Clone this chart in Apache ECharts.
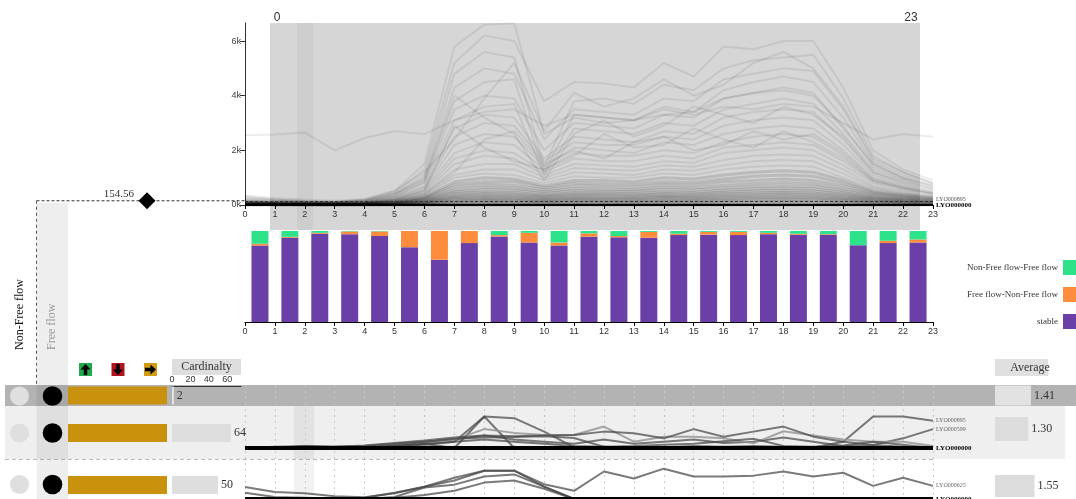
<!DOCTYPE html>
<html><head><meta charset="utf-8">
<script src="https://cdn.jsdelivr.net/npm/echarts@6/dist/echarts.min.js"></script>
<style>html,body{margin:0;padding:0;background:#fff}#c{width:1076px;height:499px}</style>
</head><body><div id="c"></div>
<script>
// ---------------- DATA ----------------
const hours = [0,1,2,3,4,5,6,7,8,9,10,11,12,13,14,15,16,17,18,19,20,21,22,23];
const barCenters = ['0.5','1.5','2.5','3.5','4.5','5.5','6.5','7.5','8.5','9.5','10.5','11.5','12.5','13.5','14.5','15.5','16.5','17.5','18.5','19.5','20.5','21.5','22.5'];
const threshold = 154.56;

// traffic volume lines (top panel), one array per detector
const topHighLines = [
  [2550,2580,2650,2000,2450,2700,2600,3100,3400,3500,2900,3300,3200,3100,3500,3300,3600,3500,3700,3600,3000,2400,2600,2500],
  [300,200,150,120,200,500,1500,5800,6600,6650,2600,3200,3000,3100,3300,3400,3900,4100,4300,4100,2800,1500,1000,700],
  [250,180,140,110,180,450,1300,5200,6200,6000,3800,4500,4450,4300,5200,4700,5800,5700,6000,6000,4300,2000,1300,900],
  [200,150,120,100,160,400,1100,4800,5600,5400,1400,3800,3900,3700,4400,4200,5000,5300,5400,5500,3900,1800,1200,800],
  [220,160,120,100,150,380,1000,4300,5000,4800,2400,3500,3400,3300,3900,3800,4600,4800,5000,4900,3500,1600,1100,750],
  [180,130,100,90,140,350,900,3800,4500,4600,1200,3300,3200,3100,3600,3400,4200,4500,4700,4500,3200,1500,1000,700],
  [160,120,90,80,130,320,850,3500,4000,3900,2000,3000,2900,2800,3300,3200,3900,4100,4200,4000,2900,1400,950,650],
  [150,110,90,80,120,300,800,3100,3600,3700,1100,2800,2700,2600,3000,2900,3500,3700,3900,3700,2600,1300,900,600],
  [350,260,200,160,220,520,1200,2400,3900,5200,2700,4100,3600,3900,4600,4000,4400,5200,5600,5000,3600,1700,1200,800],
  [280,200,150,120,170,420,950,4000,3200,2600,900,2600,3100,2500,2900,3600,3300,3000,3600,3300,2500,1200,850,600]
];
const topMidLines = [
  [140,100,80,70,110,280,700,2800,3300,3200,1700,2500,2400,2300,2700,2600,3200,3400,3500,3400,2400,1200,800,550],
  [130,100,80,70,100,260,650,2500,3000,2900,1600,2300,2200,2200,2500,2400,2900,3100,3200,3100,2200,1100,750,500],
  [120,90,70,60,100,240,600,2200,2600,2500,1400,2100,2000,1900,2300,2200,2600,2800,2900,2800,2000,1000,700,480],
  [110,80,70,60,90,220,550,1900,2300,2200,1300,1900,1800,1800,2000,1900,2300,2500,2600,2500,1800,900,650,450],
  [100,80,60,50,80,200,500,1700,2000,1900,1200,1700,1600,1600,1800,1700,2100,2200,2300,2200,1600,850,600,420],
  [100,70,60,50,80,190,450,1500,1800,1700,1100,1500,1450,1400,1600,1550,1900,2000,2100,2000,1450,800,550,400],
  [90,70,50,50,70,170,400,1300,1500,1500,1000,1350,1300,1250,1450,1400,1650,1800,1850,1800,1300,700,500,380],
  [80,60,50,40,60,150,380,1100,1300,1300,900,1200,1150,1100,1300,1250,1450,1600,1650,1600,1150,650,450,350],
  [80,60,50,40,60,140,350,1000,1150,1100,800,1050,1000,1000,1150,1100,1300,1400,1450,1400,1000,600,420,320],
  [160,110,90,70,90,200,520,2900,2100,1600,1300,1800,2600,2100,2200,2800,2400,2100,2700,2300,1700,900,600,420],
  [90,70,60,50,70,180,420,1200,2400,2700,1500,2000,1700,2300,2500,2000,2200,2700,2400,2600,1900,950,650,430]
];
const topLowLines = [
  [70,50,40,40,50,130,300,850,1000,950,700,900,900,850,1000,950,1100,1200,1250,1200,900,520,380,300],
  [60,50,40,30,50,120,280,750,850,850,620,800,780,750,850,820,950,1050,1100,1050,800,470,350,270],
  [60,40,30,30,40,100,250,650,750,720,550,700,680,650,750,720,850,900,950,900,700,420,320,250],
  [50,40,30,30,40,90,220,550,650,620,480,600,580,560,650,620,720,780,820,780,600,380,280,220],
  [50,35,30,25,35,80,200,480,560,540,420,520,500,490,560,540,620,680,700,680,520,330,250,200],
  [40,30,25,20,30,70,170,420,480,460,360,450,440,420,480,460,540,590,610,590,450,290,220,180],
  [40,30,20,20,30,60,150,360,420,400,320,390,380,370,420,400,470,510,530,510,390,260,200,160],
  [30,25,20,15,25,50,130,310,360,340,280,340,330,320,360,350,410,440,460,440,340,230,170,140],
  [30,20,15,15,20,45,110,270,310,300,240,290,280,270,310,300,350,380,400,380,290,200,150,120],
  [25,20,15,10,20,40,95,230,260,250,200,250,240,230,270,260,300,320,340,320,250,170,130,100],
  [20,15,10,10,15,30,80,190,220,210,170,210,200,190,220,210,250,270,280,270,210,140,110,90],
  [20,15,10,10,15,25,65,150,180,170,140,170,160,160,180,170,200,220,230,220,170,120,90,70],
  [15,10,10,5,10,20,50,120,140,130,110,130,125,120,140,135,160,170,180,170,135,95,70,55],
  [10,10,5,5,10,15,35,80,100,95,80,95,90,85,100,95,110,120,125,120,95,70,50,40],
  [5,5,5,5,5,10,20,50,60,55,45,55,50,50,55,55,65,70,75,70,55,40,30,25]
];
const zeroLine = [0,0,0,0,0,0,0,0,0,0,0,0,0,0,0,0,0,0,0,0,0,0,0,0];

// transition shares per hour (%)
const stableShare = [84,92.6,97,96.5,94.5,82.2,68.5,86.7,94,87.4,84,93.7,93,92.6,95.5,96,95.5,96.5,95.9,95.8,84.4,86.7,87.4];
const ffToNffShare = [2,1,1,3,5,17.8,31.5,13.3,1.5,10.6,3.4,3.7,1.5,6.4,1.5,3,3.5,1.5,1,0.7,0,2.6,3.3];
const nffToFfShare = [14,6.4,2,0.5,0.5,0,0,0,4.5,2,12.6,2.6,5.5,1,3,1,1,2,3.1,3.5,15.6,10.7,9.3];

// cluster rows
const rowUp = [0,0,0];
const rowDown = [0,0,0];
const rowFlat = [100,100,100];
const cardinality = [2,64,50];
const averages = [1.41,1.30,1.55];
const cardTicks = [0,20,40,60];

// row detail lines (relative level within row)
const row2Names = ['LYO000895','LYO000599','LYO000731','LYO000412','LYO000518','LYO000377','LYO000640','LYO000000'];
const row2Values = [
  [0,0,0,0,0,0.5,1,1.5,2,1.5,1,0.5,0.3,0,0.2,0.5,0.3,0.5,0.3,0.1,1.5,7.5,7.5,6.5],
  [0,0,0.5,0.3,0.5,1,1.5,2,3,2,1.5,1,2,1,1.5,2,1.2,1.5,2.5,1.5,0.5,0.7,2.3,4.5],
  [0,0,0.3,0.2,0.3,0.5,0.8,1.5,7.5,7.1,3.9,0.2,0,0,0,0,0,0,0,0,0,0,0,0],
  [0,0,0,0,0.2,0.5,1,0,7.5,0,0,0,0,0,0,0,0,0,0,0,0,0,0,0],
  [0,0,0.2,0.3,0.5,1,1.5,2,4.5,3.6,3.1,3.1,5.1,1.5,2.7,2.7,2.3,1.1,4,3,2,1.5,1.5,0.5],
  [0,0.3,0.5,0.3,0.6,1.2,1.8,2.5,3,2.8,3,3.1,3.9,3.5,2.3,4.5,2.7,3.9,5.1,2.7,1.5,0.7,0.3,0.1],
  [0,0,0,0,0.3,0.8,1.4,2.2,2.5,2.6,2.8,2.4,0.3,0.5,0.8,1,1.6,2.2,0.5,0.3,0.6,1.5,0.8,0],
  [0,0,0,0,0,0,0,0,0,0,0,0,0,0,0,0,0,0,0,0,0,0,0,0]
];
const row2Tone = ['d','d','d','d','l','d','d','b'];
const row3Names = ['LYO000625','LYO000204','LYO000318','LYO000455','LYO000001'];
const row3Values = [
  [2.9,1.7,1.4,0.7,0.4,1.4,3,5.2,6.9,6.9,3.6,2,6.7,5,7.4,5.5,5.5,5.7,6.7,5.5,6.4,3.2,5.2,3.2],
  [0,0,0,0,0.3,1.5,3,4.5,6.9,6.9,3,0,0,0,0,0,0,0,0,0,0,0,0,0],
  [0,0,0,0,0,0.5,2.8,3.5,5.5,6,3,0,0,0,0,0,0,0,0,0,0,0,0,0],
  [1.5,0.5,0.3,0,0,0.3,1,2,4,4.5,2.5,0,0,0,0,0,0,0,0,0,0,0,0,0],
  [0,0,0,0,0,0,0,0,0,0,0,0,0,0,0,0,0,0,0,0,0,0,0,0]
];
const row3Tone = ['d','d','d','d','b'];

// ---------------- CHART ----------------
const SERIF = 'Liberation Serif', SANS = 'Liberation Sans';
const grids = [], xAxes = [], yAxes = [], series = [];
function addGrid(g, xa, ya) {
  grids.push(g); const i = grids.length - 1;
  xAxes.push(Object.assign({gridIndex: i}, xa));
  yAxes.push(Object.assign({gridIndex: i}, ya));
  return i;
}
const hourAxis = {
  type: 'value', min: 0, max: 23, interval: 1,
  axisLine: {show: true, onZero: false, lineStyle: {color: '#000', width: 1}},
  axisTick: {show: true, length: 4, lineStyle: {color: '#000'}},
  axisLabel: {fontSize: 9, color: '#333', fontFamily: SANS, margin: 5},
  splitLine: {show: false}
};
const pts = arr => hours.map((h, i) => [h, arr[i]]);

// top panel
const gTop = addGrid({left: 245, right: 143, top: 23, height: 182}, hourAxis, {
  type: 'value', min: 0, max: 6660, interval: 2000,
  axisLine: {show: true, lineStyle: {color: '#333'}},
  axisTick: {show: true, length: 5, lineStyle: {color: '#333'}},
  axisLabel: {fontSize: 9, color: '#444', fontFamily: SANS, margin: 4, showMaxLabel: false, formatter: v => (v / 1000) + 'k'},
  splitLine: {show: false}
});
const lowStart = topHighLines.length + topMidLines.length;
const allTop = topHighLines.concat(topMidLines, topLowLines);
allTop.forEach((arr, k) => {
  const low = k >= lowStart;
  const s = {type: 'line', xAxisIndex: gTop, yAxisIndex: gTop, data: pts(arr), symbol: 'none', silent: true,
    lineStyle: {color: '#000', width: low ? 3 : 2, opacity: low ? 0.13 : 0.075}, z: 2};
  if (k === allTop.length - 2) s.endLabel = {show: true, formatter: 'LYO000895', fontSize: 6, color: '#555', fontFamily: SERIF, distance: 3, offset: [0, -4]};
  series.push(s);
});
series.push({type: 'line', xAxisIndex: gTop, yAxisIndex: gTop, data: pts(zeroLine), symbol: 'none', silent: true,
  lineStyle: {color: '#000', width: 2.5}, z: 3,
  endLabel: {show: true, formatter: 'LYO000000', fontSize: 7, fontWeight: 'bold', color: '#000', fontFamily: SERIF, distance: 3},
  markLine: {symbol: 'none', silent: true, label: {show: false}, lineStyle: {type: [3, 2], color: '#333', width: 1},
    data: [{yAxis: threshold}]}});

// transition bars (category axis for stacking, value axis drawn for hour ticks)
const gBar = addGrid({left: 245, right: 143, top: 231, height: 91},
  {type: 'category', data: barCenters, boundaryGap: true, show: false},
  {type: 'value', min: 0, max: 100, show: false});
const barSeries = [
  ['stable', stableShare, '#6a40a8'],
  ['Free flow-Non-Free flow', ffToNffShare, '#fd8d3c'],
  ['Non-Free flow-Free flow', nffToFfShare, '#2ee28a']
];
barSeries.forEach(([name, vals, color]) => {
  series.push({type: 'bar', name, stack: 'trans', xAxisIndex: gBar, yAxisIndex: gBar, barWidth: 17,
    itemStyle: {color}, silent: true, data: vals});
});

// rows background grid (vertical dashed hour lines)
const gRows = addGrid({left: 245, right: 143, top: 385, bottom: 0},
  {type: 'value', min: 0, max: 23, interval: 1, axisLine: {show: false}, axisTick: {show: false}, axisLabel: {show: false},
    splitLine: {show: true, lineStyle: {color: '#c8c8c8', type: [2, 4], width: 1}}},
  {type: 'value', min: 0, max: 1, show: false});
series.push({type: 'line', xAxisIndex: gRows, yAxisIndex: gRows, data: [], silent: true});

// row line panels
function rowPanel(top, names, values, tones) {
  const g = addGrid({left: 245, right: 143, top, height: 42},
    {type: 'value', min: 0, max: 23, show: false}, {type: 'value', min: 0, max: 10, show: false});
  names.forEach((nm, k) => {
    const tone = tones[k];
    const s = {type: 'line', xAxisIndex: g, yAxisIndex: g, data: pts(values[k]), symbol: 'none', silent: true,
      lineStyle: tone === 'b' ? {color: '#000', width: 4} : tone === 'l' ? {color: 'rgba(150,150,150,0.85)', width: 2} : {color: 'rgba(70,70,70,0.72)', width: 2},
      z: tone === 'b' ? 5 : 3};
    const last = values[k][values[k].length - 1];
    if (tone === 'b') s.endLabel = {show: true, formatter: 'LYO000000', fontSize: 7, fontWeight: 'bold', color: '#000', fontFamily: SERIF, distance: 3};
    else if (last > 2) s.endLabel = {show: true, formatter: nm, fontSize: 6, color: '#666', fontFamily: SERIF, distance: 3};
    series.push(s);
  });
}
rowPanel(406, row2Names, row2Values, row2Tone);
rowPanel(458, row3Names, row3Values, row3Tone);

// per-row summary bars
const rowCenter = [395.5, 433, 485];
const avgCenter = [395.5, 429, 486];
const avgHeight = [20, 24, 22];
for (let r = 0; r < 3; r++) {
  const c = rowCenter[r];
  const gG = addGrid({left: 68, width: 99, top: c - 9, height: 18},
    {type: 'value', min: 0, max: 100, show: false}, {type: 'category', data: ['r'], show: false});
  [[rowUp, '#23a84a'], [rowDown, '#b2121f'], [rowFlat, '#c8920e']].forEach(([arr, color]) => {
    series.push({type: 'bar', stack: 'dir' + r, xAxisIndex: gG, yAxisIndex: gG, barWidth: 18, silent: true,
      itemStyle: {color}, data: [arr[r]]});
  });
  const cardX = r === 0 ? {
      type: 'value', min: 0, max: 75, interval: 20, position: 'top',
      axisLine: {show: true, onZero: false, lineStyle: {color: '#333'}},
      axisTick: {show: false},
      axisLabel: {fontSize: 9, color: '#333', fontFamily: SANS, margin: 2, showMaxLabel: false,
        formatter: v => cardTicks.indexOf(v) >= 0 ? String(v) : ''},
      splitLine: {show: false}}
    : {type: 'value', min: 0, max: 75, show: false};
  const gC = addGrid({left: 172, width: 69, top: c - 9, height: 18}, cardX, {type: 'category', data: ['r'], show: false});
  series.push({type: 'bar', xAxisIndex: gC, yAxisIndex: gC, barWidth: 18, silent: true,
    itemStyle: {color: r === 0 ? '#e6e6e6' : '#dedede'}, data: [cardinality[r]],
    label: {show: true, position: 'right', distance: 3, fontFamily: SERIF, fontSize: 12, color: '#333'}});
  const gA = addGrid({left: 995, width: 60, top: avgCenter[r] - avgHeight[r] / 2, height: avgHeight[r]},
    {type: 'value', min: 0, max: 60 / 25.5, show: false}, {type: 'category', data: ['r'], show: false});
  series.push({type: 'bar', xAxisIndex: gA, yAxisIndex: gA, barWidth: avgHeight[r], silent: true,
    itemStyle: {color: r === 0 ? '#e2e2e2' : '#dcdcdc'}, data: [averages[r]],
    label: {show: true, position: 'right', distance: 3, fontFamily: SERIF, fontSize: 12, color: '#333', formatter: p => p.value.toFixed(2)}});
}
// hour tick axis under the transition bars
xAxes.push(Object.assign({gridIndex: gBar, position: 'bottom'}, hourAxis));

// ---------------- decorations ----------------
function arrowPts(dir, cx, cy) {
  const up = [[0,-5.5],[5,0],[1.7,0],[1.7,5.5],[-1.7,5.5],[-1.7,0],[-5,0]];
  return up.map(([x, y]) => dir === 'up' ? [cx + x, cy + y] : dir === 'down' ? [cx + x, cy - y] : [cx - y, cy + x]);
}
const graphics = [
  {type: 'rect', id: 'row1', z: -10, shape: {x: 5, y: 385, width: 1071, height: 21}, style: {fill: '#b3b3b3'}},
  {type: 'rect', id: 'row2', z: -10, shape: {x: 5, y: 406, width: 1060, height: 53}, style: {fill: '#efefef'}},
  {type: 'line', id: 'sep', z: -9, shape: {x1: 5, y1: 459.5, x2: 935, y2: 459.5}, style: {stroke: '#bbb', lineDash: [4, 3], lineWidth: 1}},
  {type: 'rect', id: 'hourband', z: -8, shape: {x: 294, y: 406, width: 20, height: 93}, style: {fill: 'rgba(0,0,0,0.05)'}},
  {type: 'rect', id: 'brush', z: -10, shape: {x: 270, y: 23, width: 650, height: 207}, style: {fill: '#d6d6d6'}},
  {type: 'rect', id: 'brushsel', z: -9, shape: {x: 297, y: 23, width: 16, height: 207}, style: {fill: 'rgba(0,0,0,0.04)'}},
  {type: 'text', id: 'b0', z: 50, x: 277, y: 18, style: {text: '0', font: '12px ' + SANS, fill: '#333', textAlign: 'center', textVerticalAlign: 'middle'}},
  {type: 'text', id: 'b23', z: 50, x: 911, y: 18, style: {text: '23', font: '12px ' + SANS, fill: '#333', textAlign: 'center', textVerticalAlign: 'middle'}},
  {type: 'text', id: 'nff', z: 50, x: 20, y: 350, rotation: Math.PI / 2, style: {text: 'Non-Free flow', font: '12px ' + SERIF, fill: '#111', textAlign: 'left', textVerticalAlign: 'middle'}},
  {type: 'text', id: 'ff', z: 50, x: 52, y: 350, rotation: Math.PI / 2, style: {text: 'Free flow', font: '12px ' + SERIF, fill: '#999', textAlign: 'left', textVerticalAlign: 'middle'}},
  {type: 'rect', id: 'icU', z: 50, shape: {x: 79, y: 363, width: 13, height: 13}, style: {fill: '#23a84a'}},
  {type: 'polygon', id: 'arU', z: 51, shape: {points: arrowPts('up', 85.5, 369.5)}, style: {fill: '#000'}},
  {type: 'rect', id: 'icD', z: 50, shape: {x: 111.5, y: 363, width: 13, height: 13}, style: {fill: '#b2121f'}},
  {type: 'polygon', id: 'arD', z: 51, shape: {points: arrowPts('down', 118, 369.5)}, style: {fill: '#000'}},
  {type: 'rect', id: 'icR', z: 50, shape: {x: 144, y: 363, width: 13, height: 13}, style: {fill: '#d29c12'}},
  {type: 'polygon', id: 'arR', z: 51, shape: {points: arrowPts('right', 150.5, 369.5)}, style: {fill: '#000'}},
  {type: 'rect', id: 'cardBox', z: 50, shape: {x: 172, y: 359, width: 69, height: 16}, style: {fill: '#dedede'}},
  {type: 'text', id: 'cardT', z: 51, x: 206.5, y: 367, style: {text: 'Cardinalty', font: '12px ' + SERIF, fill: '#333', textAlign: 'center', textVerticalAlign: 'middle'}},
  {type: 'rect', id: 'avgBox', z: 50, shape: {x: 995, y: 359, width: 53, height: 17}, style: {fill: '#e0e0e0'}},
  {type: 'text', id: 'avgT', z: 51, x: 1030, y: 367.5, style: {text: 'Average', font: '12px ' + SERIF, fill: '#333', textAlign: 'center', textVerticalAlign: 'middle'}}
];
const circleY = [396, 433, 484.5];
circleY.forEach((cy, r) => {
  graphics.push({type: 'circle', id: 'lc' + r, z: 50, shape: {cx: 19.5, cy, r: 9.6}, style: {fill: '#dfdfdf'}});
  graphics.push({type: 'circle', id: 'bc' + r, z: 50, shape: {cx: 52.5, cy, r: 9.8}, style: {fill: '#000'}});
});

const option = {
  animation: false,
  backgroundColor: '#fff',
  grid: grids, xAxis: xAxes, yAxis: yAxes, series,
  legend: {
    data: ['Non-Free flow-Free flow', 'Free flow-Non-Free flow', 'stable'],
    orient: 'vertical', right: 0, top: 260, padding: 0, align: 'right', icon: 'rect',
    itemWidth: 13, itemHeight: 15, itemGap: 12, selectedMode: false,
    textStyle: {fontFamily: SERIF, fontSize: 9, color: '#333'}
  },
  graphic: graphics
};
const chart = echarts.init(document.getElementById('c'));
chart.setOption(option);

// threshold guide drawn at the pixel of the threshold value
const ty = chart.convertToPixel({xAxisIndex: gTop, yAxisIndex: gTop}, [0, threshold])[1];
chart.setOption({graphic: [
  {type: 'rect', id: 'ffcol', z: -7, shape: {x: 36.5, y: ty + 2, width: 31.5, height: 499 - ty}, style: {fill: 'rgba(0,0,0,0.065)'}},
  {type: 'line', id: 'thH', z: 20, shape: {x1: 36.5, y1: ty, x2: 245, y2: ty}, style: {stroke: '#333', lineDash: [3, 2], lineWidth: 1}},
  {type: 'line', id: 'thV', z: 20, shape: {x1: 36.5, y1: ty, x2: 36.5, y2: 385}, style: {stroke: '#555', lineDash: [3, 3], lineWidth: 1}},
  {type: 'polygon', id: 'dia', z: 21, shape: {points: [[147, ty - 8.5], [155.5, ty], [147, ty + 8.5], [138.5, ty]]}, style: {fill: '#000'}},
  {type: 'text', id: 'thT', z: 21, x: 134, y: ty - 7, style: {text: '154.56', font: '11px ' + SERIF, fill: '#333', textAlign: 'right', textVerticalAlign: 'middle'}}
]});
</script>
</body></html>
